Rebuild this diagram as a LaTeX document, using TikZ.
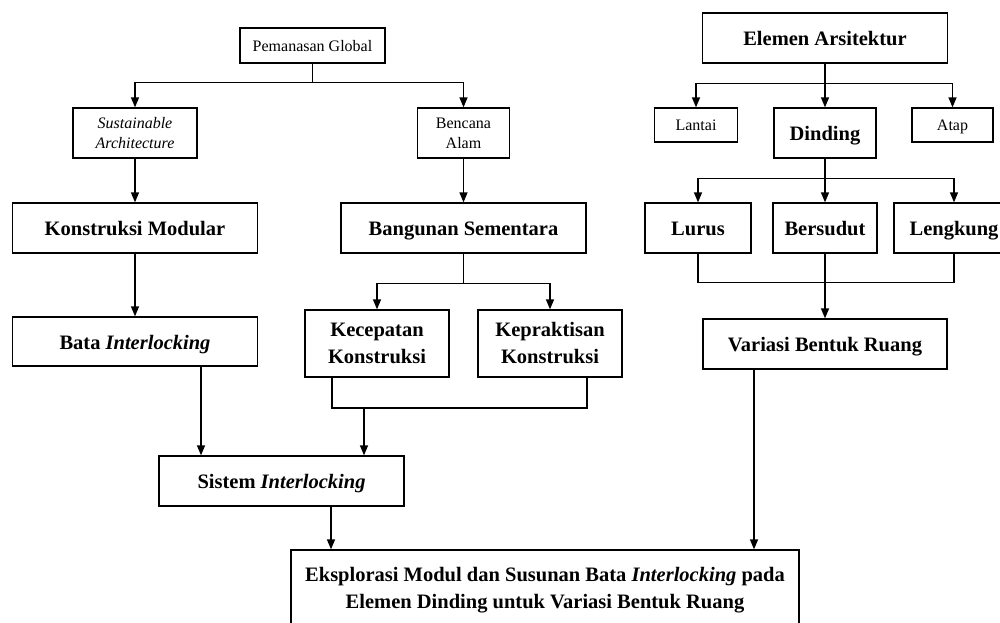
\documentclass[tikz,border=0pt]{standalone}
\usepackage{fontspec}
\setmainfont{Liberation Serif}
\usetikzlibrary{arrows.meta}

\begin{document}
\begin{tikzpicture}[x=1pt, y=-1pt,
		box/.style = {draw, line width=1.3pt, inner sep=0pt, align=center},
		big/.style = {box, font=\fontsize{20.5}{27}\selectfont\bfseries},
		small/.style = {box, font=\fontsize{16}{20}\selectfont},
		bigone/.style = {big, text height=17pt, text depth=2pt},
		smallone/.style = {small, text height=13pt, text depth=2pt},
		arr/.style = {-{Triangle[length=10pt,width=8pt]}, line width=1.3pt},
		link/.style = {line width=1.3pt}]
		\path[use as bounding box, clip] (0,0) rectangle (1000,622);

		% left tree
		\draw (312.5,45.5) node[smallone, minimum width=145pt, minimum height=35pt] (pg) {Pemanasan Global};
		\draw (135,133) node[small, minimum width=124pt, minimum height=50pt] (sa) {\textit{Sustainable}\\\textit{Architecture}};
		\draw (463.5,133) node[small, minimum width=92pt, minimum height=50pt] (ba) {Bencana\\Alam};

		\draw (135,228) node[bigone, minimum width=245pt, minimum height=50pt] (km) {Konstruksi Modular};
		\draw (463.5,228) node[bigone, minimum width=245pt, minimum height=50pt] (bs) {Bangunan Sementara};
		\draw (135,341.5) node[bigone, minimum width=245pt, minimum height=49pt] (bi) {Bata \textit{Interlocking}};
		\draw (377,343.5) node[big, minimum width=144pt, minimum height=67pt] (kc) {Kecepatan\\Konstruksi};
		\draw (550,343.5) node[big, minimum width=144pt, minimum height=67pt] (kp) {Kepraktisan\\Konstruksi};
		\draw (281.5,481) node[bigone, minimum width=245pt, minimum height=50pt] (si) {Sistem \textit{Interlocking}};

		% right tree
		\draw (825,38) node[bigone, minimum width=245pt, minimum height=50pt] (ea) {Elemen Arsitektur};
		\draw (696,125) node[smallone, minimum width=83pt, minimum height=34pt] (lantai) {Lantai};
		\draw (825,133) node[bigone, minimum width=102pt, minimum height=50pt] (dinding) {Dinding};
		\draw (952.5,125) node[smallone, minimum width=81pt, minimum height=34pt] (atap) {Atap};
		\draw (698,228) node[bigone, minimum width=106pt, minimum height=50pt] (lurus) {Lurus};
		\draw (825,228) node[bigone, minimum width=104pt, minimum height=50pt] (bersudut) {Bersudut};
		\draw (954,228) node[bigone, minimum width=120pt, minimum height=50pt] (lengkung) {Lengkung};
		\draw (825,344) node[bigone, minimum width=244pt, minimum height=50pt] (variasi) {Variasi Bentuk Ruang};

		\draw (545,590) node[big, minimum width=508pt, minimum height=80pt] (eks) {Eksplorasi Modul dan Susunan Bata \textit{Interlocking} pada\\Elemen Dinding untuk Variasi Bentuk Ruang};

		\coordinate (kjoin) at (364,408);

		\draw [arr] (pg.south) -- ++(0,19) -| (sa.north);
		\draw [arr] (pg.south) -- ++(0,19) -| (ba.north);
		\draw [arr] (sa) -- (km);
		\draw [arr] (ba) -- (bs);
		\draw [arr] (km) -- (bi);
		\draw [arr] (bs.south) -- ++(0,30) -| (kc.north);
		\draw [arr] (bs.south) -- ++(0,30) -| (kp.north);
		\draw [link] ([xshift=-45pt]kc.south) |- (kjoin) -| ([xshift=37pt]kp.south);
		\draw [arr] (kjoin) -- (kjoin |- si.north);
		\draw [arr] ([xshift=66pt]bi.south) -- ([xshift=66pt]bi.south |- si.north);
		\draw [arr] ([xshift=49.5pt]si.south) -- ([xshift=49.5pt]si.south |- eks.north);

		\draw [arr] (ea) -- (dinding);
		\draw [arr] (ea.south) -- ++(0,20) -| (lantai.north);
		\draw [arr] (ea.south) -- ++(0,20) -| (atap.north);
		\draw [arr] (dinding.south) -- ++(0,20) -| (lurus.north);
		\draw [arr] (dinding) -- (bersudut);
		\draw [arr] (dinding.south) -- ++(0,20) -| (lengkung.north);
		\draw [link] (lurus.south) -- ++(0,29) -| (lengkung.south);
		\draw [arr] (bersudut) -- (variasi);
		\draw [arr] ([xshift=-71pt]variasi.south) -- ([xshift=-71pt]variasi.south |- eks.north);
	\end{tikzpicture}
\end{document}
